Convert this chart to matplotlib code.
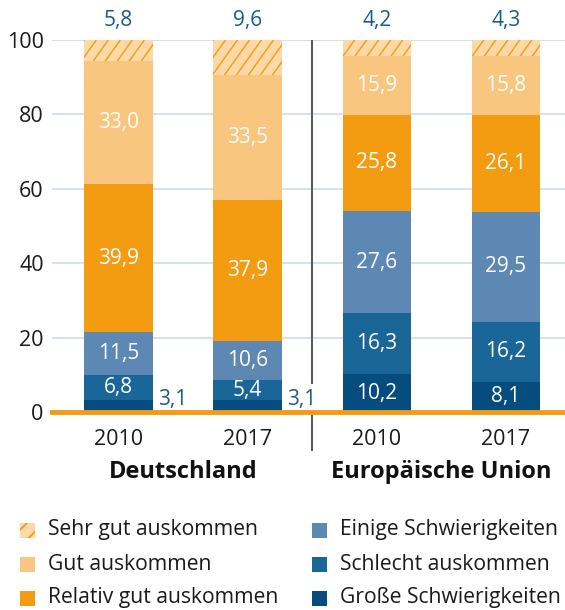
import matplotlib
matplotlib.use("Agg")
import numpy as np
import matplotlib.pyplot as plt
from matplotlib.patches import Rectangle

plt.rcParams['font.family'] = ['Open Sans', 'DejaVu Sans']
plt.rcParams['hatch.linewidth'] = 1.3

years = ['2010', '2017', '2010', '2017']
groups = ['Deutschland', 'Europäische Union']
categories = ['Große Schwierigkeiten', 'Schlecht auskommen', 'Einige Schwierigkeiten',
              'Relativ gut auskommen', 'Gut auskommen', 'Sehr gut auskommen']
grosse = [3.1, 3.1, 10.2, 8.1]
schlecht = [6.8, 5.4, 16.3, 16.2]
einige = [11.5, 10.6, 27.6, 29.5]
relativ = [39.9, 37.9, 25.8, 26.1]
gut = [33.0, 33.5, 15.9, 15.8]
sehr_gut = [5.8, 9.6, 4.2, 4.3]

series = [grosse, schlecht, einige, relativ, gut, sehr_gut]
colors = ['#074c7e', '#1a6698', '#5d88b3', '#f39c12', '#f9c67f', '#fdd9a8']
label_blue = '#1a5a8a'
text_col = '#1a1a1a'

W, H = 565, 610
fig = plt.figure(figsize=(W / 100, H / 100), dpi=100)
ax = fig.add_axes([0.092, 0.3246, 0.908, 0.6098])
ax.set_xlim(-0.515, 3.457)
ax.set_ylim(0, 100)

# pixels per data unit, for the stripes
px_x = 0.908 * W / (3.457 + 0.515)
px_y = 0.6098 * H / 100


def fmt(v):
    return f'{v:.1f}'.replace('.', ',')


def stripes(patch, x0, x1, y0, y1, step_px=12):
    # diagonal orange lines inside a bar
    slope = px_x / px_y * 1.4
    step = step_px / px_x
    span = (y1 - y0) / slope
    for xs in np.arange(x0 - span, x1 + step, step):
        ln, = ax.plot([xs, xs + span], [y0, y1], color='#f39c12', lw=1.0, zorder=3)
        ln.set_clip_path(patch)


x = range(len(years))
width = 0.53
bottoms = [0.0] * len(years)
for s, vals in enumerate(series):
    for i in x:
        if s == 5:
            bars = ax.bar(i, 100 - bottoms[i], width, bottom=bottoms[i], color=colors[s],
                          linewidth=0, zorder=2)
            stripes(bars[0], i - width / 2, i + width / 2, bottoms[i], 100)
            ax.text(i, 102.5, fmt(vals[i]), ha='center', va='bottom',
                    color=label_blue, fontsize=15, clip_on=False)
        else:
            ax.bar(i, vals[i], width, bottom=bottoms[i], color=colors[s],
                   linewidth=0, zorder=2)
            if s == 0 and i < 2:
                ax.text(i + width / 2 + 0.04, 3.3, fmt(vals[i]), ha='left',
                        va='center', color=label_blue, fontsize=15, zorder=4)
            else:
                ax.text(i, bottoms[i] + vals[i] / 2, fmt(vals[i]),
                        ha='center', va='center', color='white', fontsize=15, zorder=4)
        bottoms[i] += vals[i]

ax.set_yticks([0, 20, 40, 60, 80, 100])
ax.set_xticks(list(x))
ax.set_xticklabels(years)
ax.tick_params(length=0, labelsize=15.5, colors=text_col, pad=6)
ax.tick_params(axis='x', pad=12)
ax.yaxis.grid(True, color='#cfdbea', linewidth=1.2, zorder=0)
ax.set_axisbelow(True)
for sp in ax.spines.values():
    sp.set_visible(False)

ax.axhline(0, color='#f39c12', linewidth=3.5, zorder=5, clip_on=False)
ax.plot([1.5, 1.5], [100, 7.8], color='#555555', linewidth=1.4, zorder=3)
ax.plot([1.5, 1.5], [-1.2, -10.2], color='#555555', linewidth=1.4, zorder=3, clip_on=False)

for k, g in enumerate(groups):
    ax.text(0.5 + 2 * k, -16, g, ha='center', va='center', fontsize=17,
            fontweight='bold', color='#111111', clip_on=False)

# legend, two columns
leg_order = [5, 4, 3, 2, 1, 0]
col_x = [20, 312]
row_y = [530, 564, 598]
sq = 15
for n, c in enumerate(leg_order):
    lx = col_x[n // 3]
    ly = row_y[n % 3]
    if c == 5:
        r = Rectangle((lx / W, 1 - (ly + sq / 2) / H), sq / W, sq / H, transform=fig.transFigure,
                      facecolor=colors[c], edgecolor='#f39c12', hatch='//', linewidth=0)
    else:
        r = Rectangle((lx / W, 1 - (ly + sq / 2) / H), sq / W, sq / H, transform=fig.transFigure,
                      facecolor=colors[c], linewidth=0)
    fig.add_artist(r)
    fig.text((lx + 28) / W, 1 - ly / H, categories[c], ha='left', va='center',
             fontsize=15.2, color=text_col)

fig.savefig('out.png', dpi=100)
